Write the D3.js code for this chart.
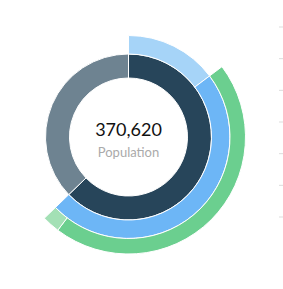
<!DOCTYPE html>
<html>
<head>
<meta charset="utf-8">
<script src="https://cdn.jsdelivr.net/npm/d3@7"></script>
<style>
  html, body { margin: 0; padding: 0; background: #fff; }
  svg { display: block; font-family: Lato, 'Open Sans', sans-serif; }
</style>
</head>
<body>
<svg id="chart" width="283" height="289"></svg>
<script>
const total = 370620
const centerLabel = 'Population'

// inner ring
const ring1Names = ['Group A', 'Group B']
const ring1Values = [232700, 137920]
const ring1Colors = ['#27455a', '#6e8391']

// middle ring, splits Group A
const ring2Names = ['A1', 'A2']
const ring2Values = [54600, 178100]
const ring2Colors = ['#a6d4f8', '#6db6f6']

// outer ring, splits A2
const ring3Names = ['A2a', 'A2b']
const ring3Values = [169000, 9100]
const ring3Colors = ['#6bcf8f', '#a3e0b5']

const sideTicks = [0, 1, 2, 3, 4, 5, 6]

const cx = 128.5
const cy = 137

const angle = d3.scaleLinear().domain([0, total]).range([0, 2 * Math.PI])

const svg = d3.select('#chart')
const g = svg.append('g').attr('transform', `translate(${cx},${cy})`)

/**
 * Draws one ring of arcs, starting at the given offset value.
 */
function drawRing (values, colors, offset, inner, outer) {
  const arc = d3.arc().innerRadius(inner).outerRadius(outer)
  let acc = offset
  const segs = values.map((v, i) => {
    const s = { startAngle: angle(acc), endAngle: angle(acc + v), color: colors[i] }
    acc += v
    return s
  })
  g.append('g')
    .selectAll('path')
    .data(segs)
    .join('path')
    .attr('d', arc)
    .attr('fill', (d) => d.color)
    .attr('stroke', '#fff')
    .attr('stroke-width', 1)
}

drawRing(ring1Values, ring1Colors, 0, 59, 83)
drawRing(ring2Values, ring2Colors, 0, 83, 101.5)
drawRing(ring3Values, ring3Colors, ring2Values[0], 101.5, 117)

g.append('text')
  .attr('text-anchor', 'middle')
  .attr('y', -1)
  .attr('fill', '#111')
  .style('font-size', '18px')
  .text(d3.format(',')(total))

g.append('text')
  .attr('text-anchor', 'middle')
  .attr('y', 20)
  .attr('fill', '#aaa')
  .style('font-size', '13px')
  .text(centerLabel)

// faint tick marks cut off at the right edge
const yTick = d3.scaleLinear().domain([0, 6]).range([26.5, 216.5])
const tickAxis = d3.axisLeft(yTick).tickValues(sideTicks).tickSize(4).tickFormat('')
svg.append('g')
  .attr('transform', 'translate(283,0)')
  .call(tickAxis)
  .call((a) => a.select('.domain').remove())
  .call((a) => a.selectAll('.tick line').attr('stroke', '#ddd'))
</script>
</body>
</html>
